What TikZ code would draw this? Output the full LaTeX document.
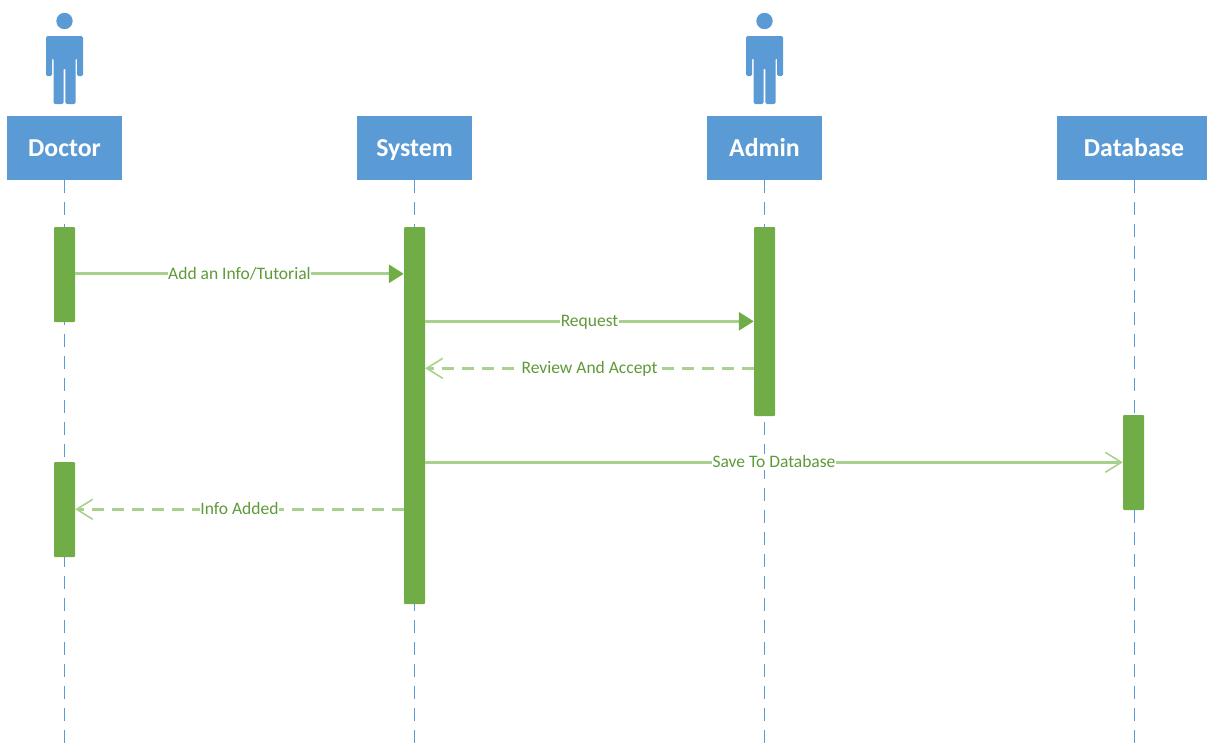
\documentclass[tikz,border=0pt]{standalone}
\usepackage{fontspec}
\setmainfont{Carlito}
\usetikzlibrary{arrows.meta}
\definecolor{hdrblue}{HTML}{5B9BD5}
\definecolor{actgreen}{HTML}{70AD47}
\definecolor{msggreen}{HTML}{A9D18E}
\definecolor{txtgreen}{HTML}{5E9A38}
\tikzset{
  x=1pt,y=-1pt,
  header/.style={fill=hdrblue,minimum width=115pt,minimum height=64pt,inner sep=0pt,text=white,text height=16pt,text depth=0pt,font=\bfseries\fontsize{25.8}{26}\selectfont},
  lifeline/.style={hdrblue,line width=1.3pt,dash pattern=on 13pt off 9pt},
  activation/.style={fill=actgreen,draw=none,rounded corners=1pt,minimum width=21pt,inner sep=0pt},
  msg/.style={msggreen,line width=3pt},
  ret/.style={msg,dash pattern=on 11.5pt off 8.5pt},
  solidhead/.style={-{Triangle[length=15pt,width=18pt,fill=actgreen,color=actgreen]}},
  openhead/.style={-{Straight Barb[length=16pt,width=20pt,line width=1.6pt,color=msggreen]}},
  msglabel/.style={fill=white,inner sep=0.5pt,text=txtgreen,text height=13pt,text depth=2pt,font=\fontsize{17.5}{19}\selectfont}
}
\newcommand{\personicon}[1]{%
  \fill[hdrblue] (#1,21) circle[radius=8.2];
  \fill[hdrblue,rounded corners=1.5pt] (#1-18.5,36) -- (#1+18.5,36) -- (#1+18.5,76) -- (#1+12.5,76) -- (#1+12.5,58)
    -- (#1+11,58) -- (#1+11,104) -- (#1+0.8,104) -- (#1+0.8,68) -- (#1-0.8,68) -- (#1-0.8,104)
    -- (#1-11,104) -- (#1-11,58) -- (#1-12.5,58) -- (#1-12.5,76) -- (#1-18.5,76) -- cycle;
}
\begin{document}
\begin{tikzpicture}
\useasboundingbox (0,0) rectangle (1207,747);
\personicon{64.5}
\personicon{764.5}
\node[header] (doctor) at (64.5,148) {Doctor};
\node[header] (system) at (414.5,148) {System};
\node[header] (admin) at (764.5,148) {Admin};
\node[header,minimum width=150pt] (database) at (1132,148) {\hspace*{4pt}Database};
\coordinate (endD) at (64.5,747);
\coordinate (endS) at (414.5,747);
\coordinate (endA) at (764.5,747);
\coordinate (endB) at (1134.5,747);
\draw[lifeline] (doctor.south) -- (endD);
\draw[lifeline] (system.south) -- (endS);
\draw[lifeline] (admin.south) -- (endA);
\draw[lifeline] ([xshift=2.5pt]database.south) -- (endB);
\node[activation,minimum height=95pt] (ad1) at (64.5,274.5) {};
\node[activation,minimum height=95pt] (ad2) at (64.5,509.5) {};
\node[activation,minimum height=377pt] (as) at (414.5,415.5) {};
\node[activation,minimum height=189pt] (aa) at (764.5,321.5) {};
\node[activation,minimum height=95pt] (ab) at (1133.5,462.5) {};
\draw[msg,solidhead] ([yshift=-47pt]ad1.north east) -- node[msglabel]{Add an Info/Tutorial} ([yshift=-47pt]as.north west);
\draw[msg,solidhead] ([yshift=-94.5pt]as.north east) -- node[msglabel]{Request} ([yshift=-94.5pt]aa.north west);
\draw[ret,openhead] ([yshift=-141.5pt]aa.north west) -- node[msglabel]{Review And Accept} ([yshift=-141.5pt]as.north east);
\draw[msg,openhead] ([yshift=-235.5pt]as.north east) -- node[msglabel]{Save To Database} ([yshift=-47.5pt]ab.north west);
\draw[ret,openhead] ([yshift=-282.5pt]as.north west) -- node[msglabel]{Info Added} ([yshift=-47.5pt]ad2.north east);
\end{tikzpicture}
\end{document}
